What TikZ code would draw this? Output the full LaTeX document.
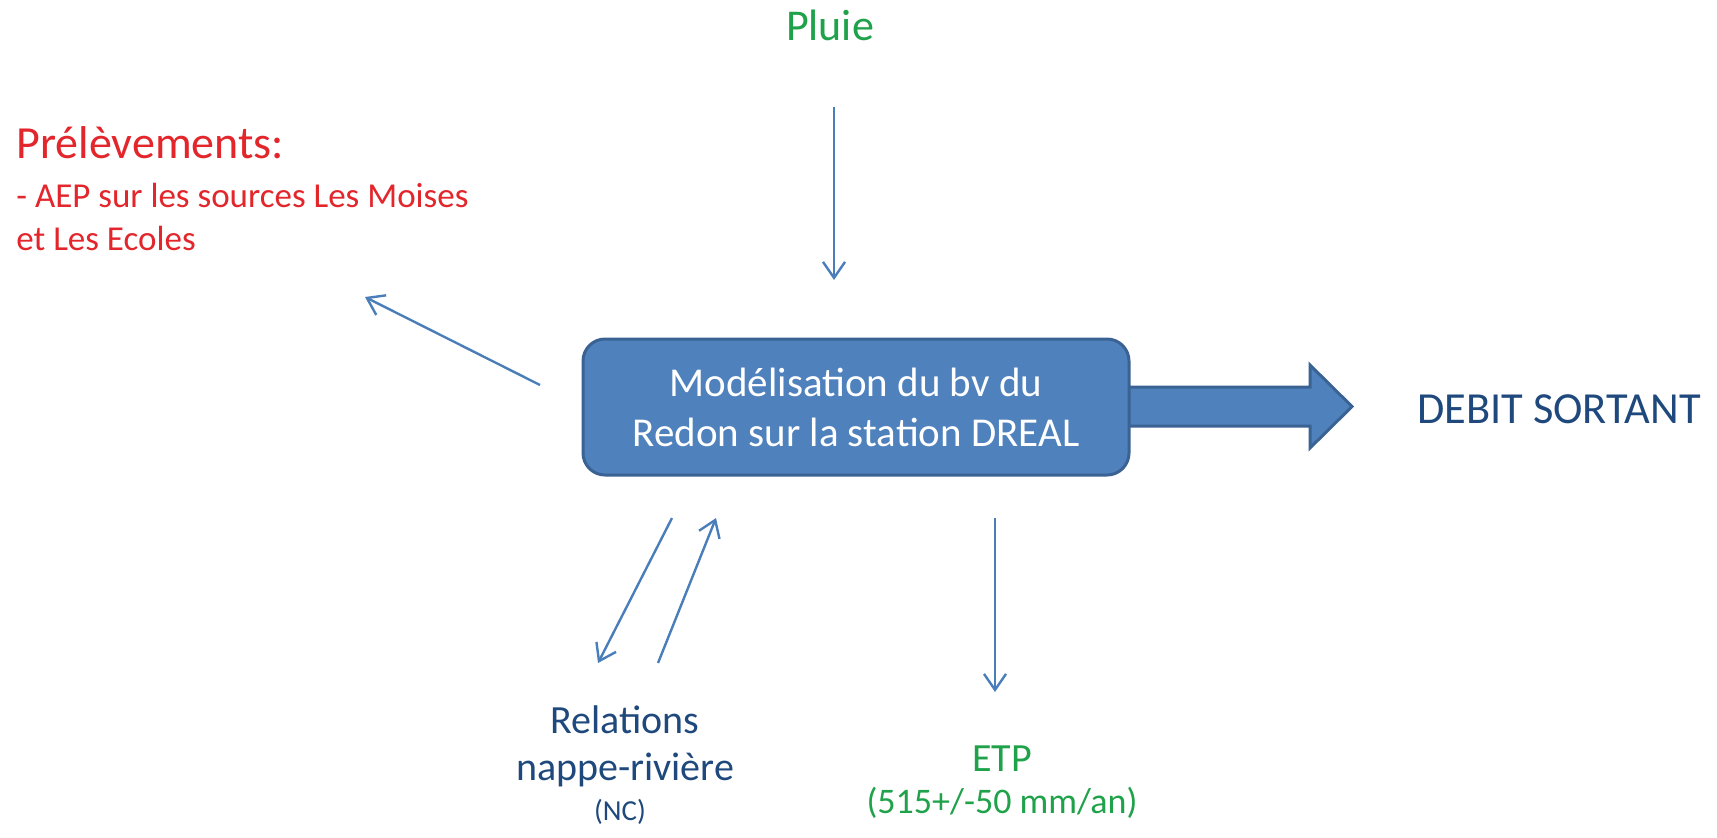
\documentclass[tikz,border=0pt]{standalone}
\usepackage{fontspec}
\setmainfont{Carlito}
\usetikzlibrary{arrows.meta}
\definecolor{boxfill}{HTML}{4F81BD}
\definecolor{boxline}{HTML}{3A6394}
\definecolor{arrowblue}{HTML}{4A7EBB}
\definecolor{txtgreen}{HTML}{1FA24A}
\definecolor{txtred}{HTML}{E2262B}
\definecolor{txtblue}{HTML}{1F497D}
\tikzset{
  flow/.style={draw=arrowblue, line width=1.2pt, -{Straight Barb[length=8pt,width=11pt,line width=1.2pt]}},
  lbl/.style={inner sep=0pt, anchor=base},
  mainbox/.style={draw=boxline, fill=boxfill, line width=1.5pt, rounded corners=11pt,
    minimum width=273pt, minimum height=68pt, align=center, text=white,
    font=\fontsize{20.5}{25}\selectfont},
  outarrow/.style={draw=boxline, fill=boxfill, line width=1.5pt, line join=miter}
}
\begin{document}
\begin{tikzpicture}[x=0.5pt,y=-0.5pt]
\useasboundingbox (0,0) rectangle (1717,837);
% big output arrow
\draw[outarrow] (1120,387) -- (1310,387) -- (1310,365) -- (1352,406.5) -- (1310,448) -- (1310,426) -- (1120,426) -- cycle;
\node[mainbox] (box) at (856,407) {Modélisation du bv du\\Redon sur la station DREAL};
% labels
\node[lbl, text=txtgreen, font=\fontsize{22}{26}\selectfont] (pluie) at (830,40) {Pluie};
\node[lbl, anchor=base west, text=txtred, font=\fontsize{23}{28}\selectfont] (prel) at (16,158) {Prélèvements:};
\node[lbl, anchor=base west, text=txtred, font=\fontsize{17.5}{21}\selectfont] (aep1) at (16,207) {- AEP sur les sources Les Moises};
\node[lbl, anchor=base west, text=txtred, font=\fontsize{17.5}{21}\selectfont] (aep2) at (16,250) {et Les Ecoles};
\node[lbl, text=txtblue, font=\fontsize{22.2}{26}\selectfont] (debit) at (1559,423) {DEBIT SORTANT};
\node[lbl, text=txtblue, font=\fontsize{20}{24}\selectfont] (rel) at (625,733) {Relations};
\node[lbl, text=txtblue, font=\fontsize{20}{24}\selectfont] (nappe) at (625,780) {nappe-rivière};
\node[lbl, text=txtblue, font=\fontsize{14.5}{17}\selectfont] (nc) at (620,820) {(NC)};
\node[lbl, text=txtgreen, font=\fontsize{20}{24}\selectfont] (etp) at (1002,771) {ETP};
\node[lbl, text=txtgreen, font=\fontsize{18}{21}\selectfont] (etpv) at (1002,813) {(515+/-50 mm/an)};
% arrow end points
\coordinate (pluieA) at (834,107);
\coordinate (pluieB) at (834,280);
\coordinate (prelA) at (540,385);
\coordinate (prelB) at (365,297);
\coordinate (outA) at (672,518);
\coordinate (outB) at (598,663);
\coordinate (inA) at (658,663);
\coordinate (inB) at (716,518);
\coordinate (etpA) at (995,518);
\coordinate (etpB) at (995,692);
\draw[flow] (pluieA) -- (pluieB);
\draw[flow] (prelA) -- (prelB);
\draw[flow] (outA) -- (outB);
\draw[flow] (inA) -- (inB);
\draw[flow] (etpA) -- (etpB);
\end{tikzpicture}
\end{document}
